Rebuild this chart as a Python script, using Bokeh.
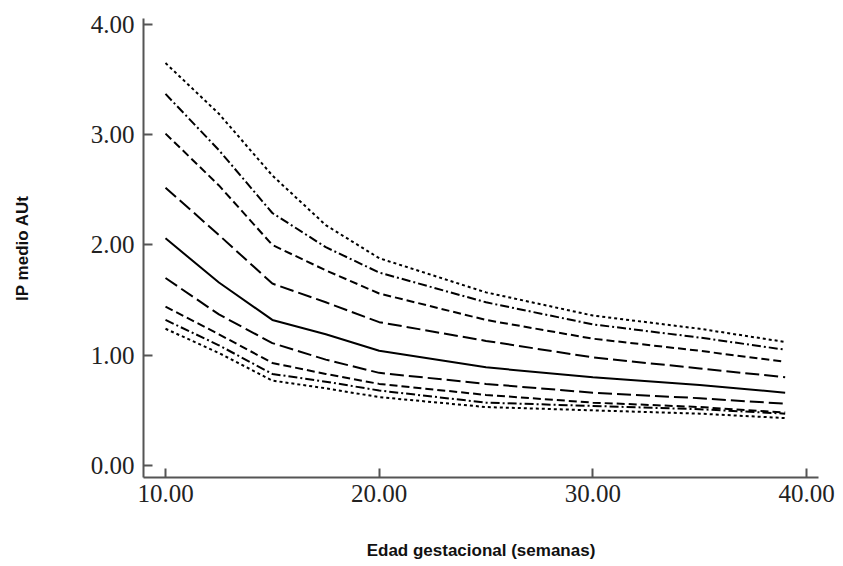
from bokeh.plotting import figure
from bokeh.models import Range1d, FixedTicker, NumeralTickFormatter
from bokeh.embed import file_html
from bokeh.resources import INLINE

weeks = [10, 12.5, 15, 17.5, 20, 25, 30, 35, 39]
p99 = [3.65, 3.19, 2.63, 2.18, 1.88, 1.57, 1.36, 1.24, 1.12]
p95 = [3.37, 2.86, 2.29, 1.98, 1.75, 1.48, 1.28, 1.16, 1.05]
p90 = [3.01, 2.54, 2.00, 1.77, 1.56, 1.32, 1.15, 1.04, 0.94]
p75 = [2.52, 2.09, 1.65, 1.48, 1.30, 1.13, 0.98, 0.88, 0.80]
p50 = [2.06, 1.66, 1.32, 1.19, 1.04, 0.89, 0.80, 0.73, 0.66]
p25 = [1.70, 1.37, 1.11, 0.96, 0.84, 0.74, 0.66, 0.61, 0.56]
p10 = [1.44, 1.19, 0.93, 0.83, 0.74, 0.64, 0.57, 0.53, 0.48]
p5 = [1.32, 1.09, 0.83, 0.76, 0.68, 0.57, 0.54, 0.51, 0.47]
p1 = [1.24, 1.02, 0.77, 0.70, 0.62, 0.53, 0.50, 0.47, 0.43]

x_ticks = [10, 20, 30, 40]
y_ticks = [0, 1, 2, 3, 4]

p = figure(width=835, height=562, output_backend="svg", toolbar_location=None,
           x_range=Range1d(8.97, 40.56), y_range=Range1d(-0.109, 4.054),
           min_border_left=143, min_border_right=17, min_border_top=18, min_border_bottom=85)
p.outline_line_color = None
p.grid.visible = False
p.background_fill_color = "white"
p.border_fill_color = "white"

series = [
    (p99, "3 3"),
    (p95, "9 3 2 3"),
    (p90, "8 4"),
    (p75, "14 5"),
    (p50, "solid"),
    (p25, "14 5"),
    (p10, "8 4"),
    (p5, "9 3 2 3"),
    (p1, "3 3"),
]
for vals, dash in series:
    p.line(weeks, vals, line_color="black", line_width=2, line_dash=dash)

for ax in (p.xaxis[0], p.yaxis[0]):
    ax.axis_line_color = "#555555"
    ax.axis_line_width = 2
    ax.major_tick_line_color = "#555555"
    ax.major_tick_line_width = 2
    ax.major_tick_in = 9
    ax.major_tick_out = 0
    ax.minor_tick_line_color = None
    ax.major_label_text_font = "Liberation Serif"
    ax.major_label_text_font_size = "25px"
    ax.major_label_text_color = "#222222"
    ax.axis_label_text_font = "Liberation Sans"
    ax.axis_label_text_font_style = "bold"
    ax.axis_label_text_font_size = "17px"
    ax.axis_label_text_color = "#111111"
    ax.formatter = NumeralTickFormatter(format="0.00")

p.xaxis.ticker = FixedTicker(ticks=x_ticks)
p.yaxis.ticker = FixedTicker(ticks=y_ticks)
p.xaxis.axis_label = "Edad gestacional (semanas)"
p.yaxis.axis_label = "IP medio AUt"
p.xaxis.major_label_standoff = 7
p.yaxis.major_label_standoff = 9
p.xaxis.axis_label_standoff = 36
p.yaxis.axis_label_standoff = 56

open("out.html", "w").write(file_html(p, INLINE))
